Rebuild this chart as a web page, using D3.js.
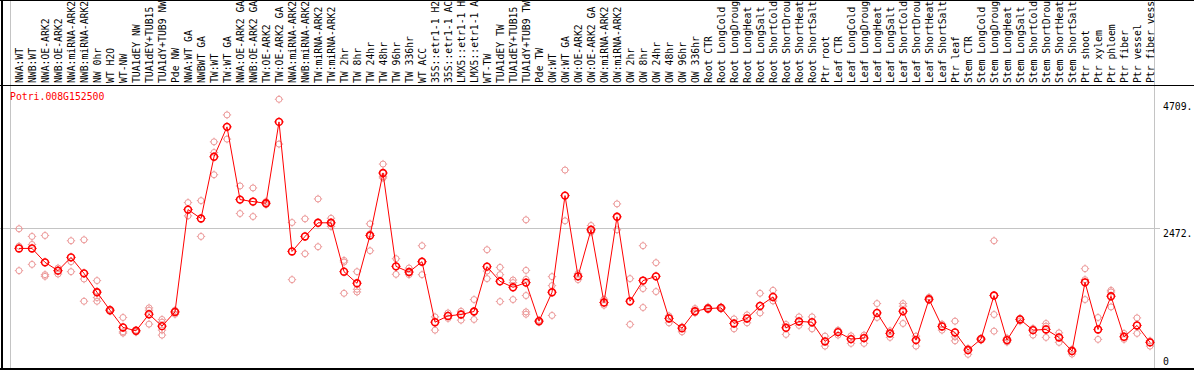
<!DOCTYPE html>
<html>
<head>
<meta charset="utf-8">
<script src="https://cdn.jsdelivr.net/npm/d3@7"></script>
<style>
  body { margin: 0; background: #fff; }
  svg { display: block; font-family: "DejaVu Sans Mono", monospace; }
</style>
</head>
<body>
<svg id="chart"></svg>
<script>
const geneId = 'Potri.008G152500';

const samples = [
  'NWA:WT', 'NWB:WT', 'NWA:OE-ARK2', 'NWB:OE-ARK2', 'NWA:miRNA-ARK2', 'NWB:miRNA-ARK2',
  'NW 0hr', 'WT H2O', 'WT-NW', 'TUA1dEY NW', 'TUA1dEY+TUB15 NW', 'TUA1dY+TUB9 NW', 'Pde NW',
  'NWA:WT GA', 'NWBWT GA', 'TW:WT', 'TW:WT GA', 'NWA:OE-ARK2 GA', 'NWB:OE-ARK2 GA',
  'TW:OE-ARK2', 'TW:OE-ARK2 GA', 'NWA:miRNA-ARK2 GA', 'NWB:miRNA-ARK2 GA', 'TW:miRNA-ARK2',
  'TW:miRNA-ARK2 GA', 'TW 2hr', 'TW 8hr', 'TW 24hr', 'TW 48hr', 'TW 96hr', 'TW 336hr', 'WT ACC',
  '35S::etr1-1 H2O', '35S::etr1-1 ACC', 'LMX5::etr1-1 H2O', 'LMX5::etr1-1 ACC', 'WT-TW',
  'TUA1dEY TW', 'TUA1dEY+TUB15 TW', 'TUA1dY+TUB9 TW', 'Pde TW',
  'OW:WT', 'OW:WT GA', 'OW:OE-ARK2', 'OW:OE-ARK2 GA', 'OW:miRNA-ARK2', 'OW:miRNA-ARK2 GA',
  'OW 2hr', 'OW 8hr', 'OW 24hr', 'OW 48hr', 'OW 96hr', 'OW 336hr',
  'Root CTR', 'Root LongCold', 'Root LongDrought', 'Root LongHeat', 'Root LongSalt',
  'Root ShortCold', 'Root ShortDrought', 'Root ShortHeat', 'Root ShortSalt', 'Ptr root',
  'Leaf CTR', 'Leaf LongCold', 'Leaf LongDrought', 'Leaf LongHeat', 'Leaf LongSalt',
  'Leaf ShortCold', 'Leaf ShortDrought', 'Leaf ShortHeat', 'Leaf ShortSalt', 'Ptr leaf',
  'Stem CTR', 'Stem LongCold', 'Stem LongDrought', 'Stem LongHeat', 'Stem LongSalt',
  'Stem ShortCold', 'Stem ShortDrought', 'Stem ShortHeat', 'Stem ShortSalt', 'Ptr shoot', 'Ptr xylem',
  'Ptr phloem', 'Ptr fiber', 'Ptr vessel', 'Ptr fiber vessel'
];

// number of samples in each block between grey separators
const groupSizes = [13, 28, 12, 10, 10, 11, 1, 1, 1, 1];

const means = [
  2119, 2119, 1872, 1725, 1960, 1677, 1342, 1024, 719, 659, 953, 742, 994,
  2807, 2649, 3743, 4273, 2984, 2949, 2919, 4361, 2066, 2331, 2573, 2573, 1707, 1501, 2348,
  3455, 1801, 1700, 1884, 812, 923, 948, 1001, 1796, 1536, 1430, 1513, 830,
  1342, 3055, 1624, 2449, 1160, 2679, 1183, 1549, 1624, 878, 706, 1006,
  1054, 1065, 789, 878, 1100, 1259, 712, 825, 812, 471,
  636, 512, 530, 976, 613, 1006, 494, 1218, 736, 630,
  318, 512, 1284, 494, 860, 671, 683, 542, 300, 1518, 683,
  1271, 553, 754, 454
];

const replicates = [
  [2467, 2159, 1725], [2331, 2189, 1836], [2348, 1654, 1624], [1771, 1665, 1725],
  [2255, 1884, 1707], [2272, 1577, 1183], [1549, 1360, 1248, 1183], [1042, 1006, 1024],
  [895, 641, 618], [671, 653, 636], [1065, 1024, 777], [860, 812, 671, 583], [1024, 953, 994],
  [2931, 2696], [2966, 2331], [4008, 3819, 3425], [4485, 4056], [3226, 2737], [3191, 2684],
  [2949, 2913, 2896], [4762, 3968], [2578, 1566], [2643, 2025], [2996, 2149],
  [2654, 2573, 2507], [1907, 1877, 1324], [1707, 1395, 1347], [2555, 2378, 2078],
  [3614, 3390, 3367], [1937, 1660], [1771, 1654, 1700], [2167, 1884, 1654], [906, 671],
  [976, 878], [1006, 848], [1213, 1001, 860], [2096, 1718, 1584], [1783, 1654, 1178],
  [1559, 1513, 1213], [2626, 1730, 1571, 1284, 994, 953], [848, 830, 812],
  [1619, 1460, 931], [3508, 2608], [1672, 1566], [2525, 2407], [1218, 1112], [2908, 2449],
  [1584, 772], [2167, 1407, 1072], [1866, 1354], [923, 800], [729, 641], [1054, 976],
  [1082, 1036, 1059], [1082, 1047, 1065], [870, 694], [941, 800], [1324, 976], [1377, 1188],
  [772, 595], [906, 754], [906, 694], [565, 388],
  [671, 583], [570, 436], [583, 436], [1142, 895], [659, 542], [1142, 1095, 789], [565, 388],
  [1254, 1201], [777, 671], [830, 553, 482],
  [348, 242], [530, 494], [2255, 948, 653], [530, 459], [883, 830], [701, 583],
  [789, 742, 542], [623, 454], [330, 247], [1760, 1566, 1213], [895, 507],
  [1377, 1347, 1082], [613, 507], [888, 613], [482, 388]
];

const yTicks = [4709, 2472, 0];
const yTickLabels = ['4709.', '2472.', '0'];
const yGridValues = [2472];

// layout
const width = 1194;
const height = 370;
const headerBottom = 85.5;
const bottomLine = 369;

const red = '#ff0000';
const pale = '#ec9a9a';
const grid = '#c4c4c4';

const svg = d3.select('#chart').attr('width', width).attr('height', height);

const x = d3.scaleBand()
  .domain(d3.range(samples.length))
  .range([10.5, 1154.5]);
const px = i => x(i) + 8.5;

const y = d3.scaleLinear().domain([0, 2472]).range([368, 228.5]);

// group separators (vertical grey lines through header and plot)
const bounds = [0].concat(d3.cumsum(groupSizes));
svg.append('g')
  .selectAll('line')
  .data(bounds)
  .enter()
  .append('line')
  .attr('x1', d => (d < samples.length ? x(d) : x.range()[1]))
  .attr('x2', d => (d < samples.length ? x(d) : x.range()[1]))
  .attr('y1', 0)
  .attr('y2', bottomLine)
  .attr('stroke', grid)
  .attr('stroke-width', 1);

// horizontal grid
svg.append('g')
  .selectAll('line')
  .data(yGridValues)
  .enter()
  .append('line')
  .attr('x1', 0)
  .attr('x2', 1160)
  .attr('y1', d => y(d))
  .attr('y2', d => y(d))
  .attr('stroke', grid)
  .attr('stroke-width', 1);

// frame
svg.append('line').attr('x1', 0).attr('x2', width).attr('y1', 0.5).attr('y2', 0.5)
  .attr('stroke', '#000').attr('stroke-width', 1);
svg.append('line').attr('x1', 0).attr('x2', width).attr('y1', headerBottom).attr('y2', headerBottom)
  .attr('stroke', '#000').attr('stroke-width', 1);
svg.append('line').attr('x1', 0).attr('x2', width).attr('y1', bottomLine).attr('y2', bottomLine)
  .attr('stroke', '#000').attr('stroke-width', 2);
svg.append('line').attr('x1', 2).attr('x2', 2).attr('y1', 0).attr('y2', height)
  .attr('stroke', '#000').attr('stroke-width', 2);

// sample labels, rotated in the header
svg.append('g')
  .selectAll('text')
  .data(samples)
  .enter()
  .append('text')
  .attr('transform', (d, i) => 'translate(' + (px(i) + 3.8) + ',83) rotate(-90)')
  .attr('font-size', '9.75px')
  .attr('fill', '#000')
  .text(d => d);

// y labels on the right
svg.append('g')
  .selectAll('text')
  .data(yTicks)
  .enter()
  .append('text')
  .attr('x', 1163)
  .attr('y', (d, i) => (d === 0 ? 365 : y(d) + 8))
  .attr('font-size', '9.8px')
  .attr('fill', '#000')
  .text((d, i) => yTickLabels[i]);

// gene id
svg.append('text')
  .attr('x', 10)
  .attr('y', 100)
  .attr('font-size', '9.8px')
  .attr('fill', red)
  .text(geneId);

// marker: circle with small ticks on four sides
function marker(g, cx, cy, r, color, sw) {
  g.append('circle')
    .attr('cx', cx).attr('cy', cy).attr('r', r)
    .attr('fill', 'none').attr('stroke', color).attr('stroke-width', sw);
  const t = r + 1.2;
  g.append('path')
    .attr('d', 'M' + (cx - t) + ',' + cy + 'h1.4M' + (cx + t - 1.4) + ',' + cy + 'h1.4' +
      'M' + cx + ',' + (cy - t) + 'v1.4M' + cx + ',' + (cy + t - 1.4) + 'v1.4')
    .attr('stroke', color).attr('stroke-width', 1);
}

// replicate points
const reps = svg.append('g').attr('class', 'replicates');
replicates.forEach((vals, i) => {
  vals.forEach(v => marker(reps, px(i), y(v), 3, pale, 1));
});

// mean line
const line = d3.line()
  .x((d, i) => px(i))
  .y(d => y(d));
svg.append('path')
  .datum(means)
  .attr('d', line)
  .attr('fill', 'none')
  .attr('stroke', red)
  .attr('stroke-width', 1);

// mean points
const meanG = svg.append('g').attr('class', 'means');
means.forEach((v, i) => marker(meanG, px(i), y(v), 3.4, red, 1.6));
</script>
</body>
</html>
